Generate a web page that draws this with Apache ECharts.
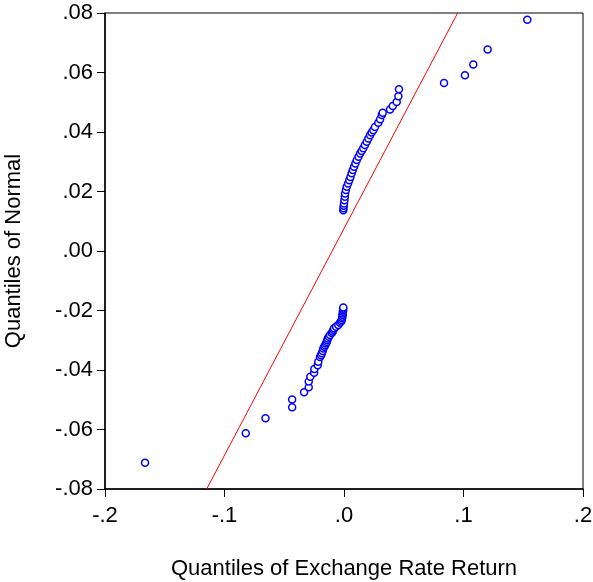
<!DOCTYPE html>
<html>
<head>
<meta charset="utf-8">
<script src="https://cdn.jsdelivr.net/npm/echarts@6/dist/echarts.min.js"></script>
<style>html,body{margin:0;padding:0;background:#fff;}#c{width:593px;height:582px;}</style>
</head>
<body>
<div id="c"></div>
<script>
var xTickLabels = ['-.2', '-.1', '.0', '.1', '.2'];
var yTickLabels = ['-.08', '-.06', '-.04', '-.02', '.00', '.02', '.04', '.06', '.08'];

var returnQuantiles = [
  -0.1665, -0.0822, -0.0657, -0.0434, -0.0434, -0.0334, -0.0295, -0.0295, -0.0282, -0.0250,
  -0.0248, -0.0220, -0.0215, -0.0201, -0.0192, -0.0186, -0.0178, -0.0173, -0.0165, -0.0158,
  -0.0151, -0.0144, -0.0140, -0.0136, -0.0127, -0.0117, -0.0103, -0.0094, -0.0088, -0.0083,
  -0.0066, -0.0048, -0.0034, -0.0024, -0.0019, -0.0016, -0.0014, -0.0012, -0.0011, -0.0009,
  -0.0008, -0.0007, -0.0006,
  -0.0006, -0.0004, -0.0002, 0.0000, 0.0004, 0.0007, 0.0009, 0.0016, 0.0023, 0.0034,
  0.0044, 0.0054, 0.0064, 0.0074, 0.0084, 0.0095, 0.0107, 0.0121, 0.0135, 0.0148,
  0.0161, 0.0175, 0.0190, 0.0204, 0.0218, 0.0231, 0.0245, 0.0259, 0.0287, 0.0302,
  0.0316, 0.0324, 0.0385, 0.0408, 0.0441, 0.0455, 0.0460,
  0.0837, 0.1012, 0.1082, 0.1202, 0.1534
];
var normalQuantiles = [
  -0.0712, -0.0613, -0.0562, -0.0525, -0.0499, -0.0475, -0.0458, -0.0439, -0.0423, -0.0409,
  -0.0397, -0.0384, -0.0372, -0.0356, -0.0350, -0.0344, -0.0336, -0.0328, -0.0322, -0.0317,
  -0.0311, -0.0306, -0.0300, -0.0294, -0.0288, -0.0282, -0.0276, -0.0271, -0.0265, -0.0260,
  -0.0255, -0.0249, -0.0241, -0.0237, -0.0232, -0.0226, -0.0221, -0.0215, -0.0210, -0.0204,
  -0.0199, -0.0194, -0.0190,
  0.0137, 0.0144, 0.0152, 0.0160, 0.0171, 0.0182, 0.0193, 0.0205, 0.0216, 0.0227,
  0.0238, 0.0249, 0.0261, 0.0272, 0.0283, 0.0294, 0.0306, 0.0317, 0.0328, 0.0336,
  0.0345, 0.0356, 0.0367, 0.0378, 0.0389, 0.0398, 0.0406, 0.0417, 0.0431, 0.0443,
  0.0457, 0.0465, 0.0476, 0.0487, 0.0501, 0.0520, 0.0544,
  0.0565, 0.0591, 0.0627, 0.0677, 0.0777
];
var refLineX = [-0.1149, 0.0951];
var refLineY = [-0.08, 0.08];

var points = returnQuantiles.map(function (v, i) { return [v, normalQuantiles[i]]; });
var refLine = refLineX.map(function (v, i) { return [v, refLineY[i]]; });

var font = 'Liberation Sans, Arial, sans-serif';
var chart = echarts.init(document.getElementById('c'), null, {renderer: 'canvas'});
chart.setOption({
  animation: false,
  backgroundColor: '#fff',
  grid: {left: 105, right: 10, top: 13, bottom: 93, containLabel: false, outerBoundsMode: 'none',
    show: true, borderColor: '#000', borderWidth: 1, backgroundColor: 'transparent'},
  xAxis: {
    type: 'value', min: -0.2, max: 0.2, interval: 0.1,
    name: 'Quantiles of Exchange Rate Return', nameLocation: 'middle', nameGap: 69,
    nameTextStyle: {fontFamily: font, fontSize: 22, color: '#000'},
    axisLine: {show: true, onZero: false, lineStyle: {color: '#000', width: 1.5}},
    axisTick: {show: true, inside: false, length: 8, lineStyle: {color: '#000', width: 1}},
    splitLine: {show: false},
    axisLabel: {margin: 16, fontFamily: font, fontSize: 22, color: '#000',
      formatter: function (v) { return xTickLabels[Math.round((v + 0.2) / 0.1)]; }}
  },
  yAxis: {
    type: 'value', min: -0.08, max: 0.08, interval: 0.02,
    name: 'Quantiles of Normal', nameLocation: 'middle', nameGap: 80,
    nameTextStyle: {fontFamily: font, fontSize: 22, color: '#000'},
    axisLine: {show: true, onZero: false, lineStyle: {color: '#000', width: 1.5}},
    axisTick: {show: true, inside: false, length: 8, lineStyle: {color: '#000', width: 1}},
    splitLine: {show: false},
    axisLabel: {margin: 12, fontFamily: font, fontSize: 22, color: '#000',
      formatter: function (v) { return yTickLabels[Math.round((v + 0.08) / 0.02)]; }}
  },
  series: [
    {
      type: 'line', data: refLine, symbol: 'none', clip: true,
      lineStyle: {color: '#ff0000', width: 1}, z: 1
    },
    {
      type: 'scatter', data: points, symbol: 'circle', symbolSize: 7,
      itemStyle: {color: '#fff', borderColor: '#0000ff', borderWidth: 1.5, opacity: 1}, z: 2
    }
  ]
});
</script>
</body>
</html>
